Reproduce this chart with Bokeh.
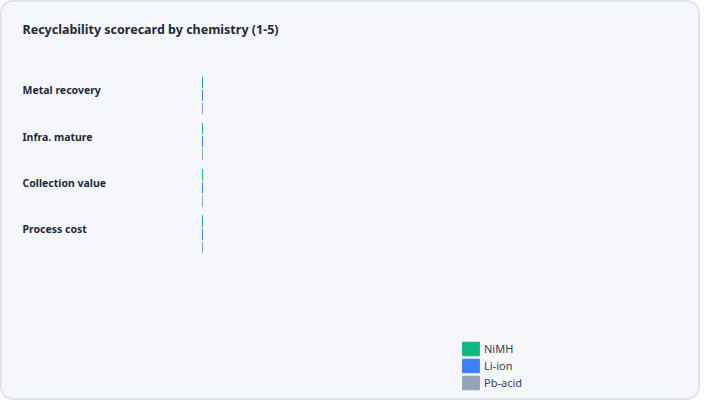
from bokeh.plotting import figure
from bokeh.models import Range1d, ColumnDataSource, Legend, LegendItem
from bokeh.core.properties import value
from bokeh.transform import dodge
from bokeh.embed import file_html
from bokeh.resources import INLINE

TITLE = "Recyclability scorecard by chemistry (1-5)"
categories = ["Metal recovery", "Infra. mature", "Collection value", "Process cost"]
chemistries = ["NiMH", "Li-ion", "Pb-acid"]
# bar lengths (all render at ~0 length)
nimh = [0, 0, 0, 0]
li_ion = [0, 0, 0, 0]
pb_acid = [0, 0, 0, 0]
colors = ["#10b981", "#3b82f6", "#94a3b8"]

FONT = "Noto Sans"
BG = "#f6f7fb"

# layout: frame spans 670px; the score axis (0-5) uses the right 480px,
# the left 190px hold the category labels
XMAX = 5
FRAME_W = 670
BAR_W = 480
XMIN = -XMAX * (FRAME_W - BAR_W) / BAR_W
ROW_PX = 46.0            # pixels per category row
Y_TOP = -92.5 / ROW_PX   # frame top (first row centre sits 92.5px below)
Y_BOTTOM = Y_TOP + 388 / ROW_PX
Y_TITLE = Y_TOP + 27 / ROW_PX

idx = list(range(len(categories)))
src = ColumnDataSource(dict(idx=idx, cat=categories, nimh=nimh, li=li_ion, pb=pb_acid,
                            zero=[0] * len(categories), lx=[XMIN] * len(categories)))

p = figure(width=700, height=400, output_backend="svg", toolbar_location=None,
           x_range=Range1d(XMIN, XMAX), y_range=Range1d(Y_BOTTOM, Y_TOP),
           min_border_left=10, min_border_right=20, min_border_top=0, min_border_bottom=10,
           background_fill_color=BG, border_fill_color=BG, outline_line_color=None,
           styles={"border": "2px solid #dfe3eb", "border-radius": "13px", "overflow": "hidden"})
p.xaxis.visible = False
p.yaxis.visible = False
p.grid.visible = False

# chart title
p.text(x=[XMIN], y=[Y_TITLE], text=[TITLE], x_offset=10,
       text_align="left", text_baseline="middle", text_font=value(FONT),
       text_font_size="12.5px", text_font_style="bold", text_color="#1f2937")

offs = [-0.2826, 0.0, 0.2826]
fields = ["nimh", "li", "pb"]
items = []
for f, o, c, name in zip(fields, offs, colors, chemistries):
    r = p.hbar(y=dodge("idx", o), left="zero", right=f, height=0.239, source=src,
               fill_color=c, line_color=c, line_width=1)
    items.append(LegendItem(label=name, renderers=[r]))

p.text(x="lx", y="idx", text="cat", source=src, x_offset=10, y_offset=-5,
       text_align="left", text_baseline="middle", text_font=value(FONT),
       text_font_size="10.5px", text_font_style="bold", text_color="#1f2937")

legend = Legend(items=items, location=(448, 1), orientation="vertical",
                background_fill_alpha=0, border_line_color=None,
                glyph_width=21, glyph_height=17, spacing=-1, padding=0, margin=0,
                label_standoff=3, label_text_font=FONT, label_text_font_size="11px",
                label_text_color="#374151", label_height=16)
p.add_layout(legend)

open("out.html", "w").write(file_html(p, INLINE))
